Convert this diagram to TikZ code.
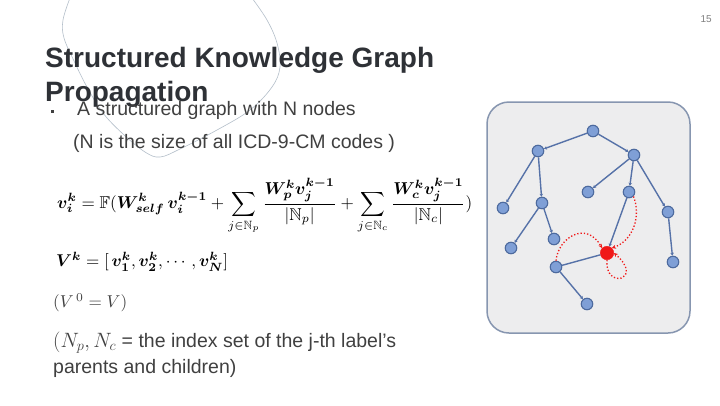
\documentclass[tikz,border=0pt]{standalone}
\usepackage{amsmath,amssymb,bm}
\usepackage{graphicx}
\usepackage{fontspec}
\setmainfont{Liberation Sans}
\usetikzlibrary{arrows.meta}
\definecolor{titlecol}{HTML}{2E3136}
\definecolor{bodycol}{HTML}{404040}
\definecolor{decocol}{HTML}{B4BFCA}
\definecolor{boxfill}{HTML}{EDEDEE}
\definecolor{boxline}{HTML}{8796B0}
\definecolor{nodefill}{HTML}{7F9FD6}
\definecolor{nodeline}{HTML}{4D6A9E}
\definecolor{edgecol}{HTML}{5672A8}
\definecolor{hotred}{HTML}{F01818}
\tikzset{
  gnode/.style={circle,fill=nodefill,draw=nodeline,line width=1.1pt,minimum size=11.5pt,inner sep=0pt},
  rnode/.style={circle,fill=hotred,draw=hotred,minimum size=13.5pt,inner sep=0pt},
  gedge/.style={draw=edgecol,line width=1.4pt,-{Stealth[length=3pt,width=3.5pt]}},
  gplain/.style={draw=edgecol,line width=1.4pt},
  redloop/.style={draw=hotred,dotted,line width=1.3pt,-{Stealth[length=4pt,width=4pt]}},
  bodytext/.style={anchor=base west,inner sep=0pt,text=bodycol,font=\fontsize{19.5}{23}\selectfont},
  mathtext/.style={anchor=west,inner sep=0pt,text=black},
}
\begin{document}
\begin{tikzpicture}[x=1pt,y=-1pt]
\useasboundingbox[fill=white] (0,0) rectangle (720,405);
% decorative curve
\draw[decocol,line width=0.6pt] plot[smooth,tension=0.6] coordinates {(70,-2) (63,20) (64,38) (75,63) (87,87) (103,113) (123,134) (145,152) (160,157) (180,149) (217,130) (250,110) (272,87) (280,67) (277,43) (267,20) (252,-2)};
% page number
\node[anchor=base east,inner sep=0pt,text=gray,font=\fontsize{10}{12}\selectfont] (pg) at (712,22) {15};
% title
\node[anchor=base west,inner sep=0pt,text=titlecol,font=\bfseries\fontsize{28}{30}\selectfont] (t1) at (45,67) {Structured Knowledge Graph};
\node[anchor=base west,inner sep=0pt,text=titlecol,font=\bfseries\fontsize{28}{30}\selectfont] (t2) at (45,101) {Propagation};
% bullet
\node[fill=bodycol,minimum size=3pt,inner sep=0pt] (bul) at (52,111) {};
\node[bodytext] (b1) at (77,115) {A structured graph with N nodes};
\node[bodytext] (b2) at (73,148) {(N is the size of all ICD-9-CM codes )};
% formulas
\node[mathtext] (f1) at (57,206) {\resizebox{415pt}{!}{$\displaystyle \bm{v}_{\bm i}^{\bm k} = \mathbb{F}(\bm{W}_{\bm{self}}^{\bm k}\, \bm{v}_{\bm i}^{\bm{k-1}} + \sum_{j\in\mathbb{N}_p} \frac{\bm{W}_{\bm p}^{\bm k} \bm{v}_{\bm j}^{\bm{k-1}}}{|\mathbb{N}_p|} + \sum_{j\in\mathbb{N}_c}\frac{\bm{W}_{\bm c}^{\bm k}\bm{v}_{\bm j}^{\bm{k-1}}}{|\mathbb{N}_c|})$}};
\node[mathtext] (f2) at (56,262) {\resizebox{172pt}{!}{$\bm{V}^{\bm k} = [\,\bm{v}_{\bm 1}^{\bm k}, \bm{v}_{\bm 2}^{\bm k}, \cdots, \bm{v}_{\bm N}^{\bm k}]$}};
\node[mathtext,text=bodycol] (f3) at (53,303) {\resizebox{74pt}{!}{$(V^{\,0} = V)$}};
\node[bodytext] (f4) at (53,347) {$(N_p, N_c$ = the index set of the j-th label’s};
\node[bodytext] (f5) at (53,373) {parents and children)};
% graph box
\draw[fill=boxfill,draw=boxline,line width=1.5pt,rounded corners=22pt] (487,102) rectangle (690,333);
\node[gnode] (n1) at (593,131) {};
\node[gnode] (n2) at (538,151) {};
\node[gnode] (n3) at (634,155) {};
\node[gnode] (n4) at (503,208) {};
\node[gnode] (n5) at (542,203) {};
\node[gnode] (n6) at (588,192) {};
\node[gnode] (n7) at (629,192) {};
\node[gnode] (n8) at (668,212) {};
\node[gnode] (n9) at (511,248) {};
\node[gnode] (n10) at (554,239) {};
\node[gnode] (n11) at (556,267) {};
\node[rnode] (n12) at (607,253) {};
\node[gnode] (n13) at (673,262) {};
\node[gnode] (n14) at (587,304) {};
\draw[gedge] (n1) -- (n2);
\draw[gedge] (n1) -- (n3);
\draw[gedge] (n2) -- (n4);
\draw[gedge] (n2) -- (n5);
\draw[gedge] (n5) -- (n9);
\draw[gedge] (n5) -- (n10);
\draw[gedge] (n3) -- (n6);
\draw[gedge] (n3) -- (n7);
\draw[gedge] (n3) -- (n8);
\draw[gedge] (n8) -- (n13);
\draw[gedge] (n7) -- (n12);
\draw[gplain] (n11) -- (n12);
\draw[gedge] (n11) -- (n14);
% red dotted message passing
\draw[redloop] (n7.south east) .. controls (641,215) and (634,240) .. (n12.north east);
\draw[redloop] (n11.north) .. controls (558,238) and (586,220) .. (n12.north west);
\draw[redloop] (n12.south) .. controls (604,290) and (645,280) .. (n12.east);
\end{tikzpicture}
\end{document}
